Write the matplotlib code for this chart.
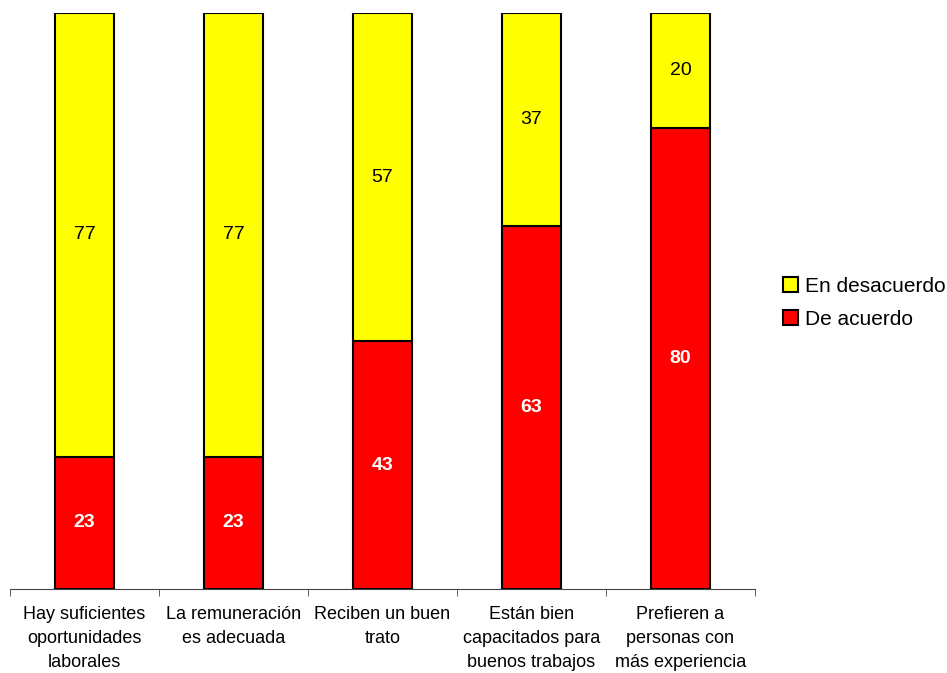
import numpy as np
import matplotlib.pyplot as plt
from matplotlib.patches import Patch

plt.rcParams['font.family'] = ['Liberation Sans', 'DejaVu Sans']

# Survey answers, percent of respondents
categories = [
    "Hay suficientes\noportunidades\nlaborales",
    "La remuneración\nes adecuada",
    "Reciben un buen\ntrato",
    "Están bien\ncapacitados para\nbuenos trabajos",
    "Prefieren a\npersonas con\nmás experiencia",
]
de_acuerdo = [23, 23, 43, 63, 80]
en_desacuerdo = [77, 77, 57, 37, 20]

RED = "#FF0000"
YELLOW = "#FFFF00"

fig = plt.figure(figsize=(9.47, 6.73), dpi=100)
ax = fig.add_axes([10 / 947, 84 / 673, 745 / 947, 576 / 673])

x = np.arange(len(categories))
width = 0.40

bars_red = ax.bar(x, de_acuerdo, width, color=RED, edgecolor="black", linewidth=1.5)
bars_yel = ax.bar(x, en_desacuerdo, width, bottom=de_acuerdo, color=YELLOW,
                  edgecolor="black", linewidth=1.5)

for xi, r, y in zip(x, de_acuerdo, en_desacuerdo):
    ax.text(xi, r / 2, f"{r}", ha="center", va="center", color="white",
            fontsize=14, fontweight="bold")
    ax.text(xi, r + y / 2, f"{y}", ha="center", va="center", color="black",
            fontsize=14)

ax.set_xlim(-0.5, len(categories) - 0.5)
ax.set_ylim(0, 100)

for side in ["left", "right", "top"]:
    ax.spines[side].set_visible(False)
ax.spines["bottom"].set_color("#444444")
ax.yaxis.set_visible(False)

# category labels centred, tick marks on the boundaries between them
ax.set_xticks(x)
ax.set_xticklabels(categories, fontsize=13, linespacing=1.55)
ax.tick_params(axis="x", which="major", length=0, pad=12)
ax.set_xticks(np.arange(-0.5, len(categories), 1.0), minor=True)
ax.tick_params(axis="x", which="minor", length=5, color="#444444")

handles = [Patch(facecolor=YELLOW, edgecolor="black", linewidth=1.5, label="En desacuerdo"),
           Patch(facecolor=RED, edgecolor="black", linewidth=1.5, label="De acuerdo")]
fig.legend(handles=handles, loc="center left", bbox_to_anchor=(777 / 947, 1 - 303 / 673),
           frameon=False, fontsize=15, handlelength=0.7, handleheight=0.7,
           handletextpad=0.35, labelspacing=0.68, borderaxespad=0, borderpad=0.3)

fig.savefig("out.png", dpi=100)
